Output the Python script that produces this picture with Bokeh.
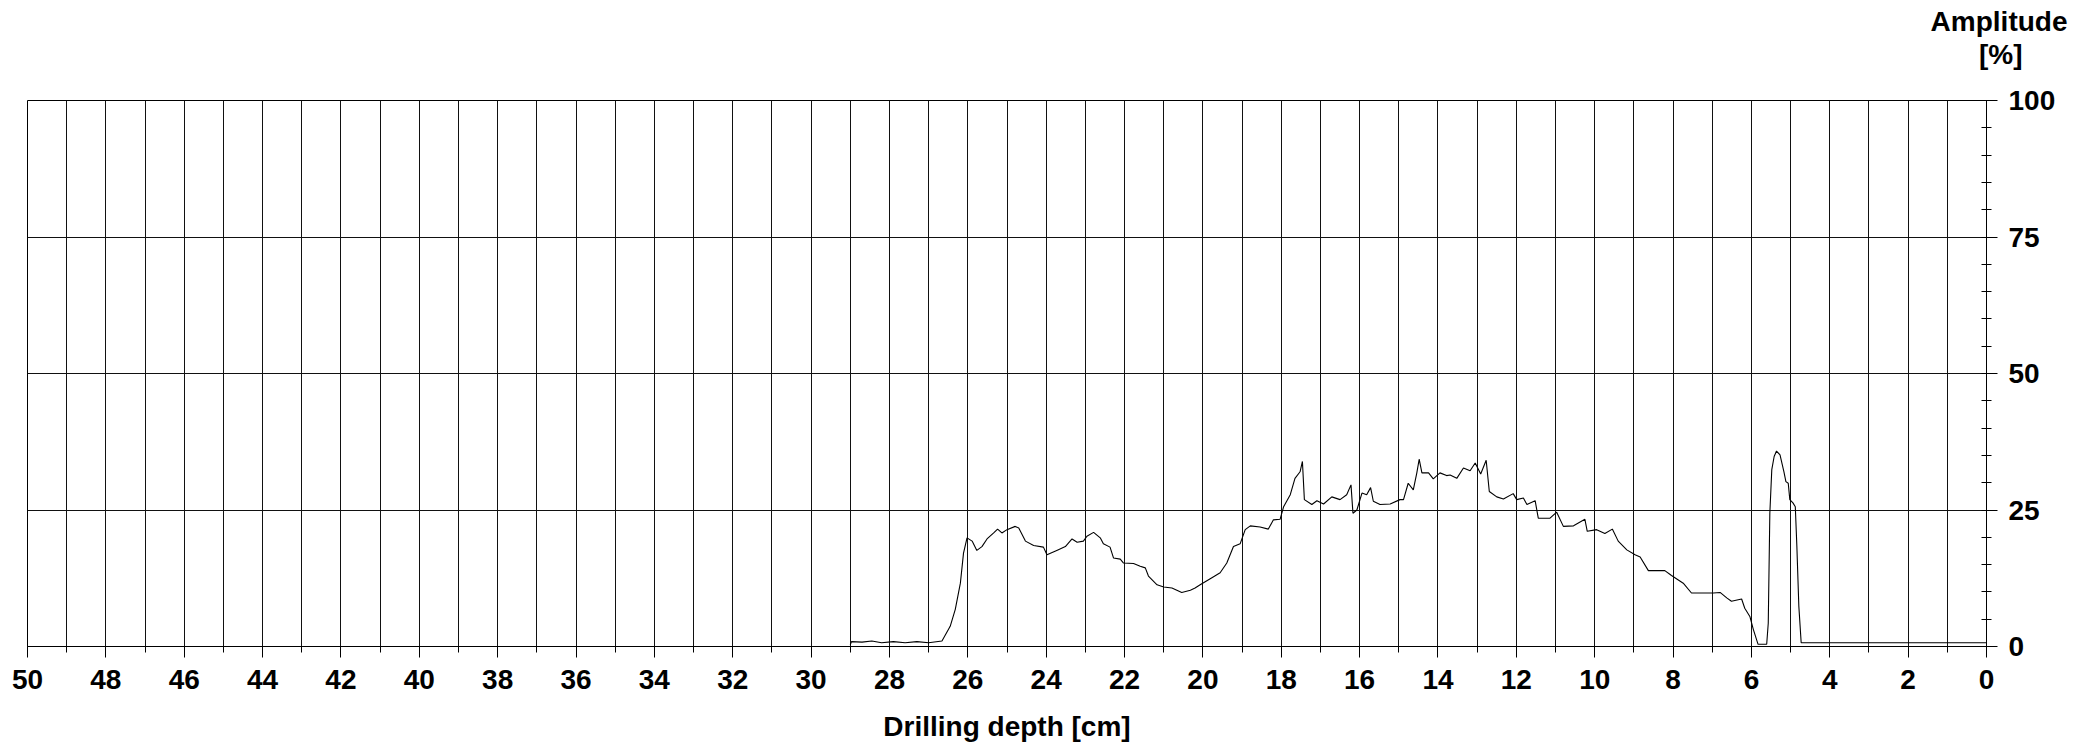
from bokeh.plotting import figure
from bokeh.models import Range1d, SingleIntervalTicker, Title, ColumnDataSource
from bokeh.embed import file_html
from bokeh.resources import INLINE

# ---- data ----
depth = [29.00, 28.97, 28.70, 28.45, 28.20, 27.90, 27.60, 27.30, 27.00, 26.66,
         26.45, 26.32, 26.19, 26.11, 26.02, 25.89, 25.77, 25.64, 25.51, 25.34,
         25.24, 25.13, 25.00, 24.79, 24.70, 24.53, 24.32, 24.07, 23.98, 23.73,
         23.51, 23.34, 23.21, 23.05, 22.96, 22.79, 22.62, 22.54, 22.37, 22.28,
         22.11, 22.03, 21.77, 21.60, 21.47, 21.39, 21.17, 21.00, 20.79, 20.54,
         20.32, 20.20, 20.07, 19.77, 19.56, 19.39, 19.22, 19.05, 18.92, 18.79,
         18.54, 18.33, 18.20, 18.03, 17.94, 17.77, 17.65, 17.52, 17.46, 17.41,
         17.22, 17.09, 16.92, 16.71, 16.50, 16.33, 16.22, 16.17, 16.07, 15.94,
         15.82, 15.72, 15.65, 15.48, 15.22, 14.97, 14.88, 14.76, 14.63, 14.54,
         14.48, 14.41, 14.24, 14.12, 13.95, 13.78, 13.69, 13.52, 13.35, 13.18,
         13.05, 12.91, 12.77, 12.69, 12.50, 12.33, 12.08, 11.99, 11.82, 11.73,
         11.52, 11.44, 11.14, 10.97, 10.80, 10.54, 10.25, 10.19, 9.95, 9.74,
         9.55, 9.40, 9.18, 8.97, 8.84, 8.63, 8.21, 8.04, 7.74, 7.53,
         6.97, 6.80, 6.63, 6.51, 6.25, 6.17, 6.04, 5.95, 5.83, 5.61,
         5.57, 5.53, 5.48, 5.42, 5.36, 5.27, 5.17, 5.12, 5.06, 5.02,
         4.94, 4.88, 4.84, 4.79, 4.73, 0.00]
amplitude = [0.3, 0.9, 0.8, 1.0, 0.7, 0.9, 0.7, 0.9, 0.7, 1.0,
             3.7, 6.8, 11.6, 17.1, 19.9, 19.3, 17.6, 18.3, 19.7, 20.8,
             21.5, 20.8, 21.4, 22.0, 21.7, 19.3, 18.5, 18.2, 16.8, 17.6,
             18.3, 19.7, 19.1, 19.3, 20.2, 20.9, 19.9, 18.8, 18.2, 16.2,
             16.0, 15.3, 15.2, 14.7, 14.4, 12.9, 11.3, 10.9, 10.7, 9.9,
             10.3, 10.7, 11.3, 12.6, 13.5, 15.3, 18.3, 18.8, 21.4, 22.1,
             21.9, 21.5, 23.2, 23.3, 25.6, 27.8, 30.8, 32.0, 33.9, 26.9,
             26.0, 26.7, 26.1, 27.4, 26.9, 27.8, 29.6, 24.4, 25.0, 28.1,
             27.8, 29.1, 26.6, 26.0, 26.1, 26.9, 26.9, 29.9, 28.7, 31.8,
             34.3, 31.8, 31.8, 30.7, 31.8, 31.3, 31.4, 30.8, 32.7, 32.2,
             33.6, 31.6, 34.1, 28.4, 27.4, 27.0, 28.0, 26.9, 27.2, 26.0,
             26.7, 23.5, 23.5, 24.6, 22.0, 22.1, 23.3, 21.1, 21.4, 20.7,
             21.5, 19.3, 17.7, 16.8, 16.4, 13.9, 13.9, 13.0, 11.6, 9.8,
             9.8, 9.9, 8.9, 8.3, 8.7, 7.0, 5.5, 3.1, 0.4, 0.4,
             4.3, 24.4, 32.4, 34.8, 35.8, 35.1, 32.0, 30.2, 29.9, 26.9,
             26.3, 25.6, 18.3, 7.4, 0.7, 0.7]

x_label = "Drilling depth [cm]"
y_label_lines = ["Amplitude", "[%]"]
x_start, x_end = 50, 0
y_start, y_end = 0, 100

FONT = "Liberation Sans"
FS = "28px"

p = figure(width=2090, height=744,
           x_range=Range1d(x_start, x_end), y_range=Range1d(y_start, y_end),
           y_axis_location="right",
           output_backend="svg", toolbar_location=None,
           min_border_left=27, min_border_right=104,
           min_border_top=100, min_border_bottom=95)

p.background_fill_color = "white"
p.border_fill_color = "white"
p.outline_line_color = "black"
p.outline_line_width = 1

# grids
p.xgrid.ticker = SingleIntervalTicker(interval=1)
p.ygrid.ticker = SingleIntervalTicker(interval=25)
for g in (p.xgrid, p.ygrid):
    g.grid_line_color = "#111111"
    g.grid_line_alpha = 1.0
    g.grid_line_width = 1

# x axis
xa = p.xaxis[0]
xa.ticker = SingleIntervalTicker(interval=2, num_minor_ticks=2)
xa.axis_line_color = "black"
xa.major_tick_line_color = "black"
xa.minor_tick_line_color = "black"
xa.major_tick_in = 0
xa.major_tick_out = 11
xa.minor_tick_in = 0
xa.minor_tick_out = 6
xa.major_label_text_font = FONT
xa.major_label_text_font_size = FS
xa.major_label_text_font_style = "bold"
xa.major_label_text_color = "black"
xa.major_label_standoff = 12
xa.axis_label = x_label
xa.axis_label_text_font = FONT
xa.axis_label_text_font_size = FS
xa.axis_label_text_font_style = "bold"
xa.axis_label_text_color = "black"
xa.axis_label_standoff = 19

# y axis (right)
ya = p.yaxis[0]
ya.ticker = SingleIntervalTicker(interval=25, num_minor_ticks=5)
ya.axis_line_color = "black"
ya.major_tick_line_color = "black"
ya.minor_tick_line_color = "black"
ya.major_tick_in = 0
ya.major_tick_out = 11
ya.minor_tick_in = 5
ya.minor_tick_out = 5
ya.major_label_text_font = FONT
ya.major_label_text_font_size = FS
ya.major_label_text_font_style = "bold"
ya.major_label_text_color = "black"
ya.major_label_standoff = 11

src = ColumnDataSource(dict(depth=depth, amplitude=amplitude))
p.line("depth", "amplitude", source=src, line_color="black", line_width=1.1)

# "Amplitude [%]" heading above the right axis (title closest to frame added first)
p.add_layout(Title(text=y_label_lines[1] + "\n", align="right", offset=-36,
                   vertical_align="bottom", standoff=0, text_line_height=1.0,
                   text_font=FONT, text_font_size=FS, text_font_style="bold",
                   text_color="black"), "above")
p.add_layout(Title(text=y_label_lines[0], align="right", offset=-81,
                   vertical_align="bottom", standoff=0,
                   text_font=FONT, text_font_size=FS, text_font_style="bold",
                   text_color="black"), "above")

open("out.html", "w").write(file_html(p, INLINE))
